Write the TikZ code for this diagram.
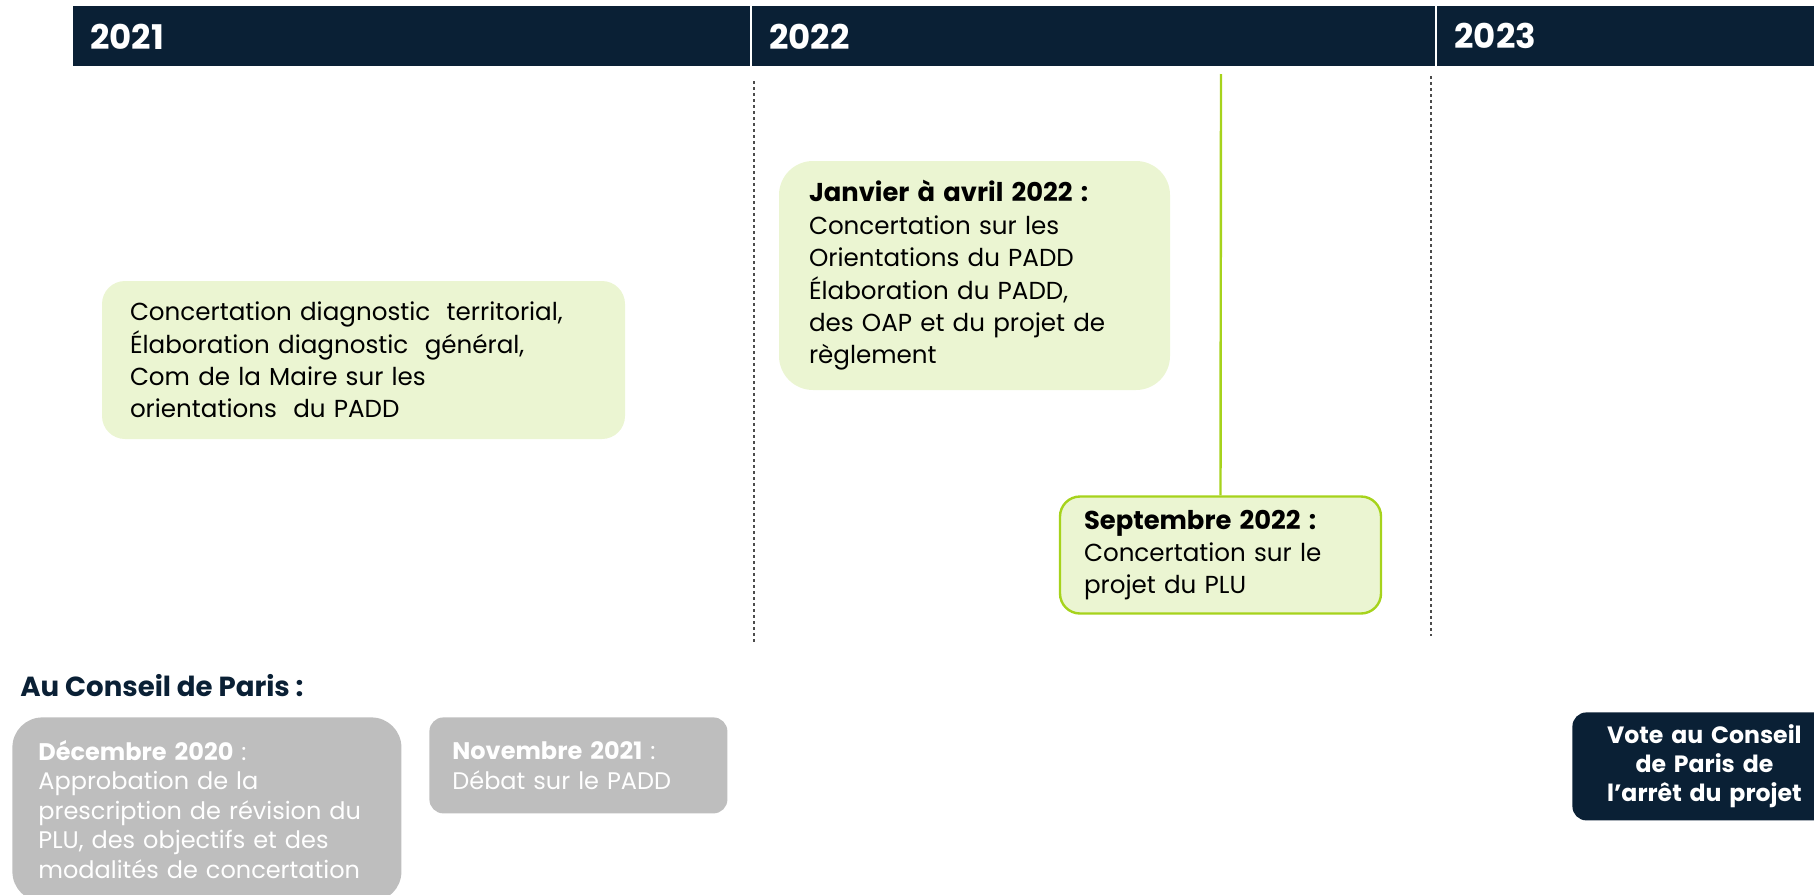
\documentclass[tikz,border=0pt]{standalone}
\usepackage{fontspec}
\setmainfont{Poppins}
\usetikzlibrary{positioning}
\definecolor{navy}{HTML}{0A2035}
\definecolor{lime}{HTML}{A6D31C}
\definecolor{palegreen}{HTML}{EBF5D2}
\definecolor{greybox}{HTML}{BEBEBE}
\newcommand{\hdline}[1]{{\bfseries\fontsize{12.9}{16.2}\selectfont #1}}
\begin{document}
\begin{tikzpicture}[x=0.5pt,y=-0.5pt,
 year/.style={fill=navy,text=white,font=\bfseries\fontsize{17}{20}\selectfont,anchor=north west,align=left,minimum height=30pt,inner xsep=8.5pt,inner ysep=0pt},
 phase/.style={fill=palegreen,align=left,font=\fontsize{12.3}{16.2}\selectfont,inner ysep=6pt},
 vote/.style={fill=greybox,text=white,align=left,anchor=north west,font=\fontsize{12}{14.75}\selectfont,rounded corners=7pt},
 guide/.style={draw=black!70,line width=1pt,dash pattern=on 1.4pt off 1.6pt}]
\useasboundingbox (0,0) rectangle (1814,894);
\clip (0,0) rectangle (1814,894);
\node[year,text width=321.5pt] (y21) at (73,6) {2021};
\node[year,text width=324.5pt] (y22) at (752,6) {2022};
\node[year,text width=179.5pt] (y23) at (1437,6) {2023};
\coordinate (d1a) at (754,81); \coordinate (d1b) at (754,644);
\coordinate (d2a) at (1431,76); \coordinate (d2b) at (1431,636);
\coordinate (gtop) at (1221,74);
\node[phase,rounded corners=11.5pt,text width=233.5pt,inner xsep=14pt,minimum height=79pt] (diag) at (363.5,360) {Concertation diagnostic\ \ territorial,\\Élaboration diagnostic\ \ général,\\Com de la Maire sur les\\orientations\ \ du PADD};
\node[phase,rounded corners=17pt,text width=165.5pt,inner xsep=15pt,minimum height=114.5pt] (padd) at (974.5,275.5) {\hdline{Janvier à avril 2022 :}\\Concertation sur les\\Orientations du PADD\\Élaboration du PADD,\\des OAP et du projet de\\règlement};
\node[phase,draw=lime,line width=1.2pt,rounded corners=10pt,text width=136.5pt,inner xsep=12pt,minimum height=58.5pt] (sept) at (1220.5,555) {\hdline{Septembre 2022 :}\\Concertation sur le\\projet du PLU};
\node[anchor=west,text=navy,font=\bfseries\fontsize{13.8}{16}\selectfont,inner sep=0pt] (cp) at (20,686) {Au Conseil de Paris :};
\node[vote,rounded corners=15pt,text width=168.5pt,inner xsep=13pt,inner ysep=11.5pt] (dec) at (12,717) {\textbf{Décembre 2020} :\\Approbation de la\\prescription de révision du\\PLU, des objectifs et des\\modalités de concertation};
\node[vote,text width=126pt,inner xsep=11.5pt,minimum height=48pt] (nov) at (429,717) {\textbf{Novembre 2021} :\\Débat sur le PADD};
\node[fill=navy,text=white,anchor=north west,align=center,rounded corners=7pt,font=\bfseries\fontsize{11.8}{14.5}\selectfont,text width=112pt,inner xsep=10pt,minimum height=54pt] (arret) at (1572,712) {Vote au Conseil\\de Paris de\\l’arrêt du projet};
\draw[guide] (d1a)--(d1b);\draw[guide] (d2a)--(d2b);
\draw[lime,line width=1.2pt] (gtop)--(sept.north);
\end{tikzpicture}
\end{document}
